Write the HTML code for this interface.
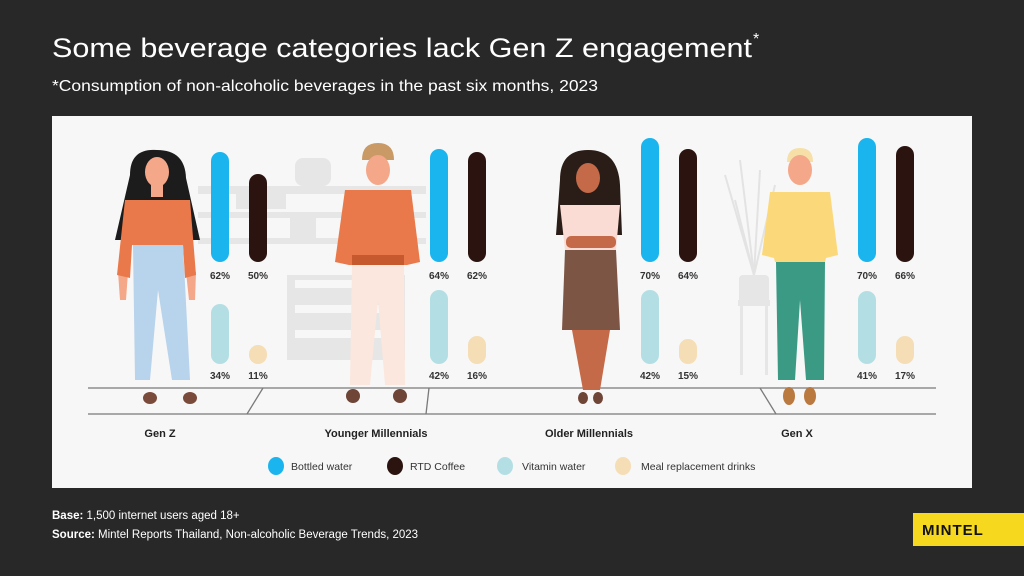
<!DOCTYPE html>
<html><head><meta charset="utf-8"><style>
html,body{margin:0;padding:0;background:#282828;}
svg{display:block;font-family:"Liberation Sans",sans-serif;}
</style></head><body>
<svg width="1024" height="576" viewBox="0 0 1024 576">
<rect width="1024" height="576" fill="#282828"/>
<text x="52" y="57" font-size="27" fill="#fff" textLength="700" lengthAdjust="spacingAndGlyphs">Some beverage categories lack Gen Z engagement</text>
<text x="753" y="44" font-size="16" fill="#fff">*</text>
<text x="52" y="91" font-size="16" fill="#fff" textLength="546" lengthAdjust="spacingAndGlyphs">*Consumption of non-alcoholic beverages in the past six months, 2023</text>
<rect x="52" y="116" width="920" height="372" fill="#f7f7f7"/>
<g fill="#e6e6e6">
<rect x="198" y="186" width="228" height="8"/><rect x="198" y="212" width="228" height="6"/><rect x="198" y="238" width="228" height="6"/>
<rect x="295" y="158" width="36" height="28" rx="8"/><rect x="236" y="193" width="50" height="16"/><rect x="290" y="218" width="26" height="24"/>
<rect x="287" y="275" width="118" height="85"/>
<rect x="739" y="275" width="30" height="30" rx="4"/><rect x="738" y="300" width="32" height="6"/>
<rect x="740" y="305" width="3" height="70"/><rect x="765" y="305" width="3" height="70"/>
</g>
<g fill="#f7f7f7"><rect x="295" y="280" width="100" height="8"/><rect x="295" y="305" width="100" height="8"/><rect x="295" y="330" width="100" height="8"/></g>
<g stroke="#e3e3e3" stroke-width="2"><line x1="754" y1="275" x2="725" y2="175"/><line x1="754" y1="275" x2="740" y2="160"/><line x1="754" y1="275" x2="760" y2="170"/><line x1="754" y1="275" x2="775" y2="185"/><line x1="754" y1="275" x2="735" y2="200"/></g>
<g stroke="#7a7a7a" stroke-width="1.3" fill="none">
<line x1="88" y1="388" x2="936" y2="388"/><line x1="88" y1="414" x2="936" y2="414"/>
<line x1="263" y1="388" x2="247" y2="414"/><line x1="429" y1="388" x2="426" y2="414"/><line x1="760" y1="388" x2="776" y2="414"/>
</g>
<!-- Gen Z woman -->
<path d="M130 175 Q130 148 157 150 Q185 150 186 178 L200 240 L115 240 Z" fill="#1c1c1c"/>
<ellipse cx="157" cy="172" rx="12" ry="15" fill="#f4a789"/>
<rect x="151" y="185" width="12" height="12" fill="#f4a789"/>
<path d="M118 272 L128 272 L126 300 L120 300 Z" fill="#f4a789"/>
<path d="M186 272 L196 272 L195 300 L189 300 Z" fill="#f4a789"/>
<path d="M125 200 L190 200 L196 275 L185 278 L183 245 L132 245 L130 278 L117 275 Z" fill="#e9794a"/>
<path d="M133 245 L183 245 L190 380 L172 380 L158 290 L150 380 L135 380 Z" fill="#b8d3ec"/>
<ellipse cx="150" cy="398" rx="7" ry="6" fill="#7a4a3b"/><ellipse cx="190" cy="398" rx="7" ry="6" fill="#7a4a3b"/>
<!-- Younger M -->
<path d="M362 160 Q362 143 378 143 Q394 143 394 160 Z" fill="#c99a66"/>
<ellipse cx="378" cy="170" rx="12" ry="15" fill="#f4a789"/>
<path d="M345 190 L411 190 L420 262 L407 265 L400 265 L356 265 L349 265 L335 262 Z" fill="#e9794a"/>
<rect x="352" y="255" width="52" height="10" fill="#c65a2e"/>
<path d="M352 265 L404 265 L405 385 L385 385 L378 300 L370 385 L350 385 Z" fill="#fbe7dd"/>
<ellipse cx="353" cy="396" rx="7" ry="7" fill="#6e4536"/><ellipse cx="400" cy="396" rx="7" ry="7" fill="#6e4536"/>
<!-- Older M -->
<path d="M560 180 Q560 150 588 150 Q618 150 620 185 L622 235 L556 235 Z" fill="#2a1d18"/>
<ellipse cx="588" cy="178" rx="12" ry="15" fill="#c46a48"/>
<path d="M560 205 L620 205 L616 250 L565 250 Z" fill="#fbdcd5"/>
<rect x="566" y="236" width="50" height="12" rx="5" fill="#c46a48"/>
<path d="M565 250 L616 250 L620 330 L562 330 Z" fill="#7d5545"/>
<path d="M572 330 L610 330 L600 390 L583 390 Z" fill="#c46a48"/>
<ellipse cx="583" cy="398" rx="5" ry="6" fill="#6e4536"/><ellipse cx="598" cy="398" rx="5" ry="6" fill="#6e4536"/>
<!-- Gen X -->
<path d="M787 162 Q787 148 800 148 Q813 148 813 162 Z" fill="#f6e0a8"/>
<ellipse cx="800" cy="170" rx="12" ry="15" fill="#f4a789"/>
<path d="M770 192 L830 192 L838 255 L826 258 L825 262 L775 262 L774 258 L762 255 Z" fill="#fbd97a"/>
<path d="M776 262 L825 262 L824 380 L806 380 L800 300 L795 380 L778 380 Z" fill="#3a9a83"/>
<ellipse cx="789" cy="396" rx="6" ry="9" fill="#b9793f"/><ellipse cx="810" cy="396" rx="6" ry="9" fill="#b9793f"/>
<g>
<rect x="211" y="152" width="18" height="110" rx="9" fill="#1ab5ef"/>
<rect x="249" y="174" width="18" height="88" rx="9" fill="#2b1410"/>
<rect x="211" y="304" width="18" height="60" rx="9" fill="#b3dfe4"/>
<rect x="249" y="345" width="18" height="19" rx="9" fill="#f5ddb6"/>
<rect x="430" y="149" width="18" height="113" rx="9" fill="#1ab5ef"/>
<rect x="468" y="152" width="18" height="110" rx="9" fill="#2b1410"/>
<rect x="430" y="290" width="18" height="74" rx="9" fill="#b3dfe4"/>
<rect x="468" y="336" width="18" height="28" rx="9" fill="#f5ddb6"/>
<rect x="641" y="138" width="18" height="124" rx="9" fill="#1ab5ef"/>
<rect x="679" y="149" width="18" height="113" rx="9" fill="#2b1410"/>
<rect x="641" y="290" width="18" height="74" rx="9" fill="#b3dfe4"/>
<rect x="679" y="339" width="18" height="25" rx="9" fill="#f5ddb6"/>
<rect x="858" y="138" width="18" height="124" rx="9" fill="#1ab5ef"/>
<rect x="896" y="146" width="18" height="116" rx="9" fill="#2b1410"/>
<rect x="858" y="291" width="18" height="73" rx="9" fill="#b3dfe4"/>
<rect x="896" y="336" width="18" height="28" rx="9" fill="#f5ddb6"/>
</g>
<g font-size="10" font-weight="bold" fill="#333" text-anchor="middle">
<text x="220" y="279">62%</text><text x="258" y="279">50%</text><text x="220" y="379">34%</text><text x="258" y="379">11%</text>
<text x="439" y="279">64%</text><text x="477" y="279">62%</text><text x="439" y="379">42%</text><text x="477" y="379">16%</text>
<text x="650" y="279">70%</text><text x="688" y="279">64%</text><text x="650" y="379">42%</text><text x="688" y="379">15%</text>
<text x="867" y="279">70%</text><text x="905" y="279">66%</text><text x="867" y="379">41%</text><text x="905" y="379">17%</text>
</g>
<g font-size="11" font-weight="bold" fill="#222" text-anchor="middle">
<text x="160" y="437">Gen Z</text><text x="376" y="437">Younger Millennials</text><text x="589" y="437">Older Millennials</text><text x="797" y="437">Gen X</text>
</g>
<g font-size="10.5" fill="#333">
<ellipse cx="276" cy="466" rx="8" ry="9" fill="#1ab5ef"/><text x="291" y="470">Bottled water</text>
<ellipse cx="395" cy="466" rx="8" ry="9" fill="#2b1410"/><text x="410" y="470">RTD Coffee</text>
<ellipse cx="505" cy="466" rx="8" ry="9" fill="#b3dfe4"/><text x="522" y="470">Vitamin water</text>
<ellipse cx="623" cy="466" rx="8" ry="9" fill="#f5ddb6"/><text x="641" y="470">Meal replacement drinks</text>
</g>
<g font-size="11.5" fill="#fff">
<text x="52" y="519"><tspan font-weight="bold">Base:</tspan> 1,500 internet users aged 18+</text>
<text x="52" y="538"><tspan font-weight="bold">Source:</tspan> Mintel Reports Thailand, Non-alcoholic Beverage Trends, 2023</text>
</g>
<rect x="913" y="513" width="111" height="33" fill="#f6d91e"/>
<text x="922" y="535" font-size="15" font-weight="bold" fill="#111" letter-spacing="1">MINTEL</text>
</svg>
</body></html>
